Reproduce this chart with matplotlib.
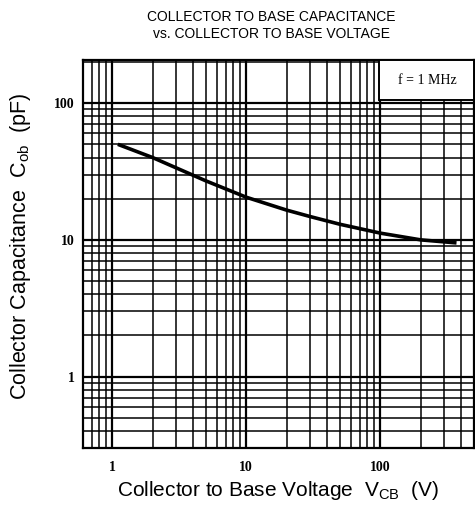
import matplotlib
matplotlib.use('Agg')
import matplotlib.pyplot as plt
from matplotlib.patches import Rectangle
from matplotlib.ticker import LogLocator, NullFormatter, FixedLocator, FixedFormatter

# Cob vs VCB curve
vcb = [1.1, 2, 5, 10, 20, 30, 50, 100, 200, 370]
cob = [50, 40, 27, 20.5, 16.5, 14.8, 13.0, 11.2, 10.0, 9.5]

x_ticks = [1, 10, 100]
x_labels = ['1', '10', '100']
y_ticks = [1, 10, 100]
y_labels = ['1', '10', '100']

plt.rcParams['mathtext.fontset'] = 'custom'
plt.rcParams['mathtext.rm'] = 'Liberation Sans'

fig = plt.figure(figsize=(4.75, 5.15), dpi=100)
ax = fig.add_axes([0.175, 0.130, 0.823, 0.753])

ax.set_xscale('log')
ax.set_yscale('log')
ax.set_xlim(0.606, 500)
ax.set_ylim(0.30, 206)

ax.xaxis.set_minor_locator(LogLocator(base=10, subs=range(2, 10)))
ax.yaxis.set_minor_locator(LogLocator(base=10, subs=range(2, 10)))
ax.xaxis.set_minor_formatter(NullFormatter())
ax.yaxis.set_minor_formatter(NullFormatter())
ax.xaxis.set_major_locator(FixedLocator(x_ticks))
ax.xaxis.set_major_formatter(FixedFormatter(x_labels))
ax.yaxis.set_major_locator(FixedLocator(y_ticks))
ax.yaxis.set_major_formatter(FixedFormatter(y_labels))

ax.grid(which='major', color='black', linewidth=1.6)
ax.grid(which='minor', color='black', linewidth=1.1)
ax.tick_params(which='both', length=0)
ax.tick_params(axis='x', pad=9)
ax.tick_params(axis='y', pad=6)
for lab in ax.get_xticklabels() + ax.get_yticklabels():
    lab.set_family('Liberation Serif')
    lab.set_fontweight('bold')
    lab.set_fontsize(10)
for sp in ax.spines.values():
    sp.set_linewidth(1.6)

ax.plot(vcb, cob, color='black', linewidth=2.6, solid_capstyle='butt')

# white box for the test condition, in the top right corner
ax.add_patch(Rectangle((0.758, 0.897), 0.242, 0.103, transform=ax.transAxes,
                       facecolor='white', edgecolor='black', linewidth=1.4,
                       zorder=3))
ax.text(0.88, 0.948, 'f = 1 MHz', transform=ax.transAxes, ha='center', va='center',
        fontsize=10, family='Liberation Serif', zorder=4)

ax.set_xlabel(r'Collector to Base Voltage  V$_{\mathrm{CB}}$  (V)', fontsize=15,
              family='Liberation Sans', labelpad=4)
ax.set_ylabel(r'Collector Capacitance  C$_{\mathrm{ob}}$  (pF)', fontsize=15.5,
              family='Liberation Sans')
ax.yaxis.set_label_coords(-0.128, 0.52)

fig.text(0.571, 0.981, 'COLLECTOR TO BASE CAPACITANCE\nvs. COLLECTOR TO BASE VOLTAGE',
         ha='center', va='top', fontsize=10, family='Liberation Sans',
         linespacing=1.25)

fig.savefig('out.png', dpi=100)
